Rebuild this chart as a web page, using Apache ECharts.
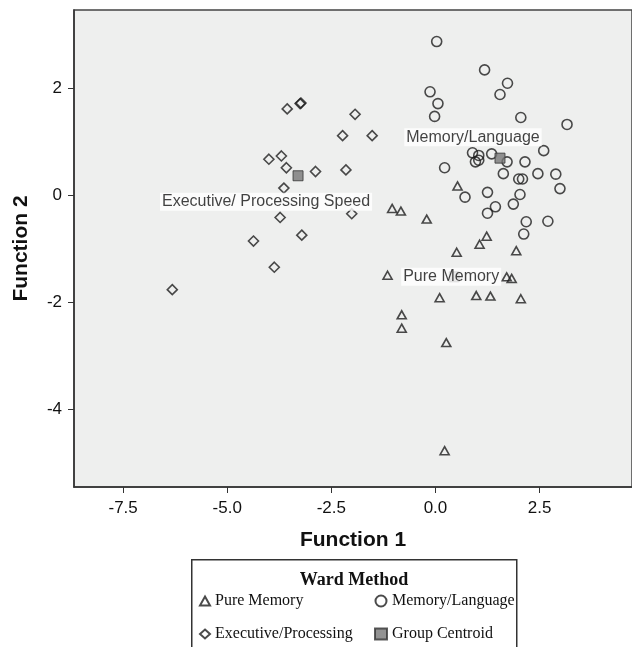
<!DOCTYPE html>
<html lang="en">
<head>
    <meta charset="UTF-8">
    <title>Ward Method</title>
    <style>
        html, body { margin: 0; padding: 0; background: #fff; }
        #main { width: 632px; height: 647px; }
    </style>
</head>
<body>
<div id="main"></div>

<script src="https://cdn.jsdelivr.net/npm/echarts@6/dist/echarts.min.js"></script>
<script>
    // discriminant scores [Function 1, Function 2]
    var pureMemory = [
        [-1.04, -0.25], [-0.83, -0.30], [-1.15, -1.50], [-0.81, -2.24], [-0.81, -2.49],
        [0.53, 0.17], [-0.21, -0.45], [1.23, -0.77], [1.06, -0.92], [0.51, -1.07],
        [1.94, -1.04], [1.71, -1.53], [1.83, -1.56], [0.10, -1.92], [0.98, -1.88],
        [1.32, -1.89], [2.05, -1.94], [0.26, -2.76], [0.22, -4.78]
    ];
    var memoryLanguage = [
        [0.03, 2.87], [1.18, 2.34], [1.73, 2.09], [1.55, 1.88], [-0.13, 1.93],
        [0.06, 1.71], [-0.02, 1.47], [2.05, 1.45], [3.16, 1.32], [2.60, 0.83],
        [0.89, 0.79], [1.04, 0.74], [0.96, 0.62], [1.04, 0.65], [1.35, 0.77],
        [1.72, 0.62], [2.15, 0.62], [0.22, 0.51], [1.63, 0.40], [2.46, 0.40],
        [2.89, 0.39], [2.00, 0.30], [2.09, 0.30], [2.99, 0.12], [1.25, 0.05],
        [2.03, 0.01], [0.71, -0.04], [1.87, -0.17], [1.44, -0.22], [1.25, -0.34],
        [2.18, -0.50], [2.70, -0.49], [2.12, -0.73]
    ];
    var executive = [
        [-3.56, 1.61], [-3.25, 1.71], [-3.23, 1.72], [-1.93, 1.51], [-2.23, 1.11],
        [-1.52, 1.11], [-4.00, 0.67], [-3.70, 0.73], [-3.58, 0.51], [-2.88, 0.44],
        [-2.15, 0.47], [-3.64, 0.13], [-2.01, -0.35], [-3.73, -0.42], [-3.21, -0.75],
        [-4.37, -0.86], [-3.87, -1.35], [-6.32, -1.77]
    ];
    var centroidNames = ['Pure Memory', 'Memory/Language', 'Executive/ Processing Speed'];
    var centroidX = [0.45, 1.55, -3.30];
    var centroidY = [-1.53, 0.69, 0.36];

    var xTicks = [-7.5, -5.0, -2.5, 0.0, 2.5];
    var yTicks = [-4, -2, 0, 2];

    var ink = '#1e1e1e';
    var axisFont = 'Arial, "Liberation Sans", sans-serif';
    var serifFont = '"Times New Roman", "Liberation Serif", serif';

    // where each centroid label sits relative to its square
    var labelOffsets = [[-3, 0], [-27, -21], [-32, 26]];

    var centroidData = centroidNames.map(function (n, i) {
        return {
            name: n,
            value: [centroidX[i], centroidY[i]],
            label: { offset: labelOffsets[i] }
        };
    });

    var hollow = { color: 'rgba(0,0,0,0)', borderColor: ink, borderWidth: 1.6 };

    var myChart = echarts.init(document.getElementById('main'));

    var option = {
        animation: false,
        grid: {
            left: 74, top: 10, width: 560, height: 477,
            show: true, backgroundColor: '#eeefee',
            borderColor: '#444', borderWidth: 1.5
        },
        xAxis: {
            type: 'value', min: -8.68, max: 4.72,
            splitLine: { show: false },
            axisLine: { onZero: false, lineStyle: { color: '#333', width: 1.5 } },
            axisTick: { length: 6, lineStyle: { color: '#333' }, customValues: xTicks },
            axisLabel: {
                customValues: xTicks, margin: 13, color: '#111',
                fontSize: 17, fontFamily: axisFont,
                formatter: function (v) { return v.toFixed(1); }
            },
            name: 'Function 1', nameLocation: 'middle', nameGap: 43,
            nameTextStyle: { fontSize: 21, fontWeight: 'bold', color: '#111', fontFamily: axisFont }
        },
        yAxis: {
            type: 'value', min: -5.46, max: 3.46,
            splitLine: { show: false },
            axisLine: { onZero: false, lineStyle: { color: '#333', width: 1.5 } },
            axisTick: { length: 6, lineStyle: { color: '#333' }, customValues: yTicks },
            axisLabel: {
                customValues: yTicks, margin: 12, color: '#111',
                fontSize: 17, fontFamily: axisFont
            },
            name: 'Function 2', nameLocation: 'middle', nameGap: 42,
            nameTextStyle: { fontSize: 21, fontWeight: 'bold', color: '#111', fontFamily: axisFont }
        },
        legend: [
            {
                data: ['Pure Memory', 'Executive/Processing'],
                orient: 'vertical', left: 199, top: 592, padding: 0,
                itemWidth: 10, itemHeight: 9, itemGap: 15,
                textStyle: { fontSize: 16, lineHeight: 18, color: '#111', fontFamily: serifFont }
            },
            {
                data: ['Memory/Language', 'Group Centroid'],
                orient: 'vertical', left: 374, top: 592, padding: 0,
                itemWidth: 12, itemHeight: 11, itemGap: 15,
                textStyle: { fontSize: 16, lineHeight: 18, color: '#111', fontFamily: serifFont }
            }
        ],
        graphic: [
            {
                type: 'rect', left: 191, top: 559, z: -1,
                shape: { width: 325, height: 120 },
                style: { fill: '#fff', stroke: '#333', lineWidth: 1.5 }
            },
            {
                type: 'text', x: 354, y: 580,
                style: {
                    text: 'Ward Method', fill: '#111', align: 'center', verticalAlign: 'middle',
                    font: 'bold 18px ' + serifFont
                }
            }
        ],
        series: [
            {
                name: 'Pure Memory', type: 'scatter', symbol: 'triangle',
                symbolSize: [9, 8], data: pureMemory, itemStyle: hollow
            },
            {
                name: 'Memory/Language', type: 'scatter', symbol: 'circle',
                symbolSize: 10, data: memoryLanguage, itemStyle: hollow
            },
            {
                name: 'Executive/Processing', type: 'scatter', symbol: 'diamond',
                symbolSize: 10, data: executive, itemStyle: hollow
            },
            {
                name: 'Group Centroid', type: 'scatter', symbol: 'rect',
                symbolSize: 10, data: centroidData,
                itemStyle: { color: '#777', borderColor: '#333', borderWidth: 1 },
                label: {
                    show: true, position: 'inside',
                    formatter: '{b}', fontSize: 16, color: '#111', fontFamily: axisFont,
                    backgroundColor: '#fff', padding: [1, 2]
                },
                z: 5
            }
        ]
    };

    myChart.setOption(option);
</script>
</body>
</html>
